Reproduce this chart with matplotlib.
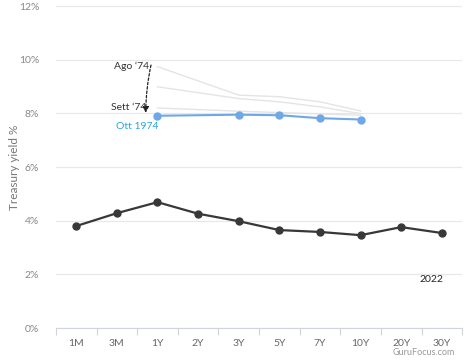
import matplotlib
matplotlib.use("Agg")
import matplotlib.pyplot as plt
import numpy as np

plt.rcParams['font.family'] = ['Lato', 'DejaVu Sans']

categories = ['1M', '3M', '1Y', '2Y', '3Y', '5Y', '7Y', '10Y', '20Y', '30Y']
y2022 = [3.80, 4.28, 4.69, 4.26, 3.98, 3.65, 3.58, 3.46, 3.76, 3.54]
ott74_cats = ['1Y', '3Y', '5Y', '7Y', '10Y']
ott74 = [7.91, 7.95, 7.93, 7.82, 7.77]
ago74 = [9.74, 8.68, 8.62, 8.43, 8.09]
mid74 = [8.99, 8.55, 8.43, 8.24, 7.99]
sett74 = [8.20, 8.08, 8.03, 7.98, 7.93]
yticks = [0, 2, 4, 6, 8, 10, 12]

fig = plt.figure(figsize=(4.74, 3.63), dpi=100)
ax = fig.add_axes([0.118, 0.0964, 0.857, 0.887])

xi = np.arange(len(categories))
oi = [categories.index(c) for c in ott74_cats]

for s in (ago74, mid74, sett74):
    ax.plot(oi, s, color='#e4e4e4', lw=1.0, zorder=2)

ax.plot(oi, ott74, color='#6fa8e6', lw=1.5, marker='o', ms=5, zorder=3)
ax.plot(xi, y2022, color='#383838', lw=1.6, marker='o', ms=5, zorder=3)

ax.set_xlim(-0.5, len(categories) - 0.5)
ax.set_ylim(0, 12)
ax.set_yticks(yticks)
ax.set_yticklabels([f'{v}%' for v in yticks])
ax.set_xticks(xi)
ax.set_xticklabels(categories)
ax.set_xticks(np.arange(-0.5, len(categories), 1), minor=True)
ax.tick_params(axis='x', which='major', length=0, pad=8, labelsize=7.5, labelcolor='#666666')
ax.tick_params(axis='x', which='minor', length=5, color='#d0d4dc', width=0.8)
ax.tick_params(axis='y', length=0, pad=12, labelsize=7.5, labelcolor='#888888')
ax.grid(axis='y', color='#e8e8e8', lw=0.9)
ax.set_axisbelow(True)
for sp in ['top', 'right', 'left']:
    ax.spines[sp].set_visible(False)
ax.spines['bottom'].set_color('#d0d4dc')
ax.spines['bottom'].set_linewidth(0.8)

fig.text(0.03, 0.54, 'Treasury yield %', rotation=90, ha='center', va='center',
         fontsize=8.5, color='#777777')

ax.text(1.8, 9.76, "Ago ‘74", ha='right', va='center', fontsize=7.5, color='#333333')
ax.text(1.72, 8.2, "Sett ‘74", ha='right', va='center', fontsize=7.5, color='#333333')
ax.text(1.5, 7.5, "Ott 1974", ha='center', va='center', fontsize=7.5, color='#2ca4dc')
ax.text(8.75, 1.8, "2022", ha='center', va='center', fontsize=7.5, color='#222222')
ax.annotate('', xy=(1.71, 8.02), xytext=(1.84, 9.8),
            arrowprops=dict(arrowstyle='-|>,head_length=0.35,head_width=0.18', color='#222222',
                            lw=0.9, linestyle=(0, (2, 1.5)), connectionstyle='arc3,rad=0.05',
                            shrinkA=0, shrinkB=0))

fig.text(0.96, 0.017, 'GuruFocus.com', ha='right', va='bottom', fontsize=6.5, color='#999999')

fig.savefig('out.png', dpi=100)
